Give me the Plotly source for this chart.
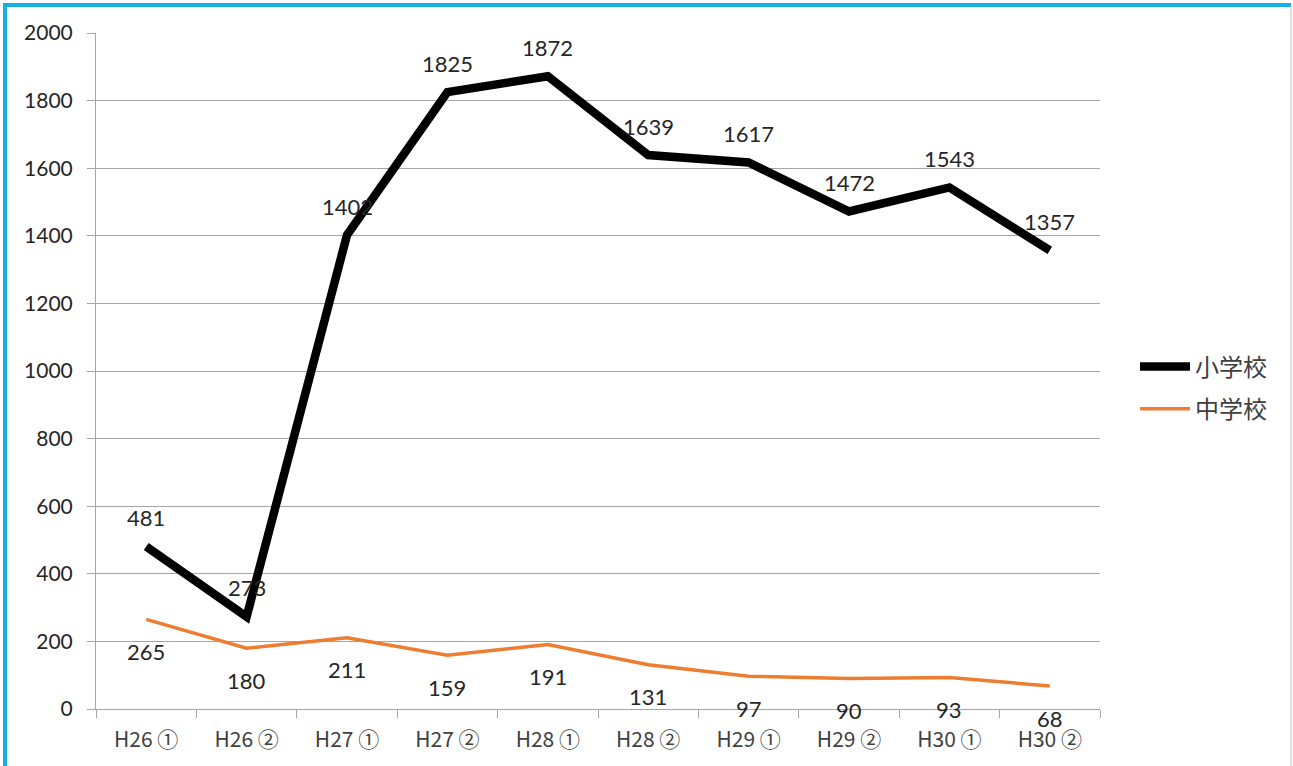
import plotly.graph_objects as go

categories = ["H26 ①", "H26 ②", "H27 ①", "H27 ②", "H28 ①", "H28 ②", "H29 ①", "H29 ②", "H30 ①", "H30 ②"]
elementary = [481, 273, 1402, 1825, 1872, 1639, 1617, 1472, 1543, 1357]
junior_high = [265, 180, 211, 159, 191, 131, 97, 90, 93, 68]
y_ticks = [0, 200, 400, 600, 800, 1000, 1200, 1400, 1600, 1800, 2000]

FONT = "Lato, 'Noto Sans CJK JP', sans-serif"
CJK = "'Noto Sans CJK JP', sans-serif"
W, H = 1293, 766
L, R, T, B = 96, 193, 33, 57
pw, ph = W - L - R, H - T - B

def px(x):
    return (x - L) / pw

def py(y):
    return (H - B - y) / ph

fig = go.Figure()
fig.add_trace(go.Scatter(x=categories, y=elementary, mode="lines", name="小学校", legendgroup="a",
                         line=dict(color="#000000", width=8.5)))
fig.add_trace(go.Scatter(x=categories, y=junior_high, mode="lines", name="中学校", legendgroup="b",
                         line=dict(color="#ED7D31", width=3.5)))

annotations = []
for c, v in zip(categories, elementary):
    annotations.append(dict(x=c, y=v, xref="x", yref="y", text=str(v), showarrow=False,
                            yshift=29, font=dict(family=FONT, size=22, color="#262626")))
for c, v in zip(categories, junior_high):
    annotations.append(dict(x=c, y=v, xref="x", yref="y", text=str(v), showarrow=False,
                            yshift=-32, font=dict(family=FONT, size=22, color="#262626")))

shapes = [
    dict(type="line", xref="paper", yref="paper", x0=px(5), x1=px(5), y0=py(3), y1=py(766),
         line=dict(color="#12B0E6", width=4)),
    dict(type="line", xref="paper", yref="paper", x0=px(3), x1=px(1291), y0=py(5), y1=py(5),
         line=dict(color="#12B0E6", width=4)),
    dict(type="line", xref="paper", yref="paper", x0=px(1291), x1=px(1291), y0=py(6), y1=py(766),
         line=dict(color="#BFBFBF", width=1)),
]

fig.update_layout(
    width=W, height=H,
    margin=dict(l=L, r=R, t=T, b=B),
    paper_bgcolor="white", plot_bgcolor="white",
    font=dict(family=FONT, size=20, color="#404040"),
    showlegend=True,
    legend=dict(x=px(1135), y=py(388), xanchor="left", yanchor="middle",
                font=dict(family=CJK, size=24, color="#404040"),
                bgcolor="rgba(0,0,0,0)", tracegroupgap=8, itemwidth=50),
    annotations=annotations,
    shapes=shapes,
    xaxis=dict(type="category", showgrid=False, showline=True, linecolor="#A6A6A6", linewidth=1,
               ticks="outside", tickson="boundaries", ticklen=8, tickcolor="#A6A6A6",
               ticklabelstandoff=12,
               tickfont=dict(family=CJK, size=21, color="#404040"), range=[-0.5, 9.5]),
    yaxis=dict(range=[0, 2000], tickvals=y_ticks, showgrid=True, gridcolor="#A6A6A6", gridwidth=1,
               showline=True, linecolor="#A6A6A6", linewidth=1, ticks="outside", ticklen=8,
               tickcolor="#A6A6A6", zeroline=False, ticklabelstandoff=10,
               tickfont=dict(family=FONT, size=21, color="#262626")),
)

fig.write_html("out.html", config={"displayModeBar": False})
with open("out.html", "r", encoding="utf-8") as f:
    html = f.read()
html = html.replace("<head>", "<head><style>html,body{margin:0;padding:0;overflow:hidden;}</style>", 1)
with open("out.html", "w", encoding="utf-8") as f:
    f.write(html)
